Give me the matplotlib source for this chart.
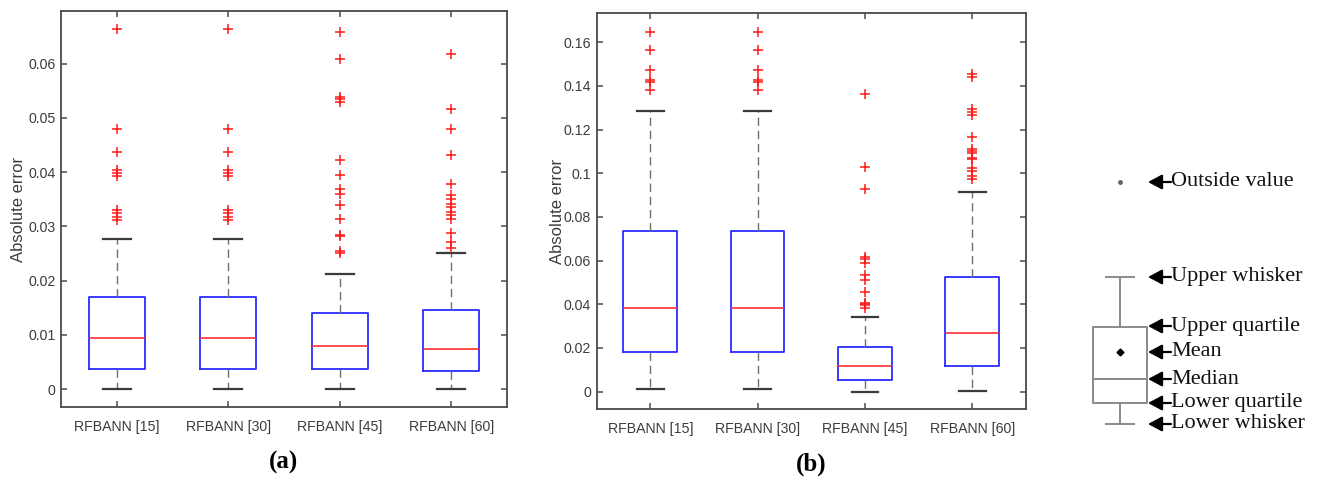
import matplotlib
matplotlib.use("Agg")
import matplotlib.pyplot as plt

# ---------------- data ----------------
categories = ["RFBANN [15]", "RFBANN [30]", "RFBANN [45]", "RFBANN [60]"]

# panel (a)
a_q1 = [0.00362, 0.00362, 0.00368, 0.00337]
a_med = [0.00945, 0.00945, 0.00798, 0.00736]
a_q3 = [0.01693, 0.01693, 0.01411, 0.01454]
a_lo = [0.0, 0.0, 0.0, 0.0001]
a_hi = [0.0276, 0.0276, 0.0212, 0.0250]
a_out_15 = [0.0663, 0.0480, 0.0437, 0.0403, 0.0399, 0.0393, 0.0330, 0.0325, 0.0318, 0.0312]
a_out_30 = [0.0663, 0.0480, 0.0437, 0.0403, 0.0399, 0.0393, 0.0330, 0.0325, 0.0318, 0.0312]
a_out_45 = [0.0658, 0.0609, 0.0539, 0.0534, 0.0529, 0.0422, 0.0395, 0.0369, 0.0360,
            0.0339, 0.0313, 0.0284, 0.0282, 0.0254, 0.0251]
a_out_60 = [0.0618, 0.0516, 0.0480, 0.0431, 0.0379, 0.0358, 0.0350, 0.0342, 0.0335,
            0.0327, 0.0321, 0.0313, 0.0287, 0.0272, 0.0261]

# panel (b)
b_q1 = [0.01817, 0.01817, 0.0052, 0.0119]
b_med = [0.0385, 0.0385, 0.0119, 0.0269]
b_q3 = [0.0737, 0.0737, 0.0203, 0.0527]
b_lo = [0.0014, 0.0014, 0.0, 0.0003]
b_hi = [0.1285, 0.1285, 0.0340, 0.0915]
b_out_15 = [0.1648, 0.1564, 0.1475, 0.1426, 0.1420, 0.1383]
b_out_30 = [0.1648, 0.1564, 0.1475, 0.1426, 0.1420, 0.1383]
b_out_45 = [0.1362, 0.1027, 0.0928, 0.0615, 0.0606, 0.0591, 0.0533, 0.0511, 0.0455,
            0.0408, 0.0402, 0.0397, 0.0382]
b_out_60 = [0.1453, 0.1443, 0.1293, 0.1280, 0.1268, 0.1166, 0.1110, 0.1101, 0.1092,
            0.1070, 0.1064, 0.1024, 0.1010, 0.0987, 0.0975]

a_yticks = [0, 0.01, 0.02, 0.03, 0.04, 0.05, 0.06]
a_yticklabels = ["0", "0.01", "0.02", "0.03", "0.04", "0.05", "0.06"]
b_yticks = [0, 0.02, 0.04, 0.06, 0.08, 0.10, 0.12, 0.14, 0.16]
b_yticklabels = ["0", "0.02", "0.04", "0.06", "0.08", "0.1", "0.12", "0.14", "0.16"]

key_labels = ["Outside value", "Upper whisker", "Upper quartile", "Mean",
              "Median", "Lower quartile", "Lower whisker"]

# ---------------- styling ----------------
SANS = "Liberation Sans"
TXT = "#3c3c3c"
SPINE = "#4a4a4a"

fig = plt.figure(figsize=(13.2, 4.78), dpi=100)


def make_stats(q1, med, q3, lo, hi, outs):
    return [dict(q1=q1[i], med=med[i], q3=q3[i], whislo=lo[i], whishi=hi[i],
                 fliers=outs[i], label=categories[i]) for i in range(len(categories))]


def panel(rect, stats, ylim, yticks, yticklabels, tag, label_x):
    ax = fig.add_axes(rect)
    ax.bxp(stats, positions=range(1, len(stats) + 1), widths=0.5, capwidths=0.25,
           manage_ticks=False,
           boxprops=dict(color="#2b2bff", lw=1.3),
           medianprops=dict(color="#ff3030", lw=1.2),
           whiskerprops=dict(color="#707070", lw=1.0, linestyle=(0, (6, 3.5))),
           capprops=dict(color="#3a3a3a", lw=1.6),
           flierprops=dict(marker="+", markeredgecolor="#ff1a1a", markersize=6.5,
                           markeredgewidth=1.1, linestyle="none"))
    ax.set_xlim(0.5, len(stats) + 0.5)
    ax.set_ylim(*ylim)
    ax.set_xticks(range(1, len(stats) + 1))
    ax.set_xticklabels(categories, fontfamily=SANS, fontsize=10.2, color=TXT)
    ax.set_yticks(yticks)
    ax.set_yticklabels(yticklabels, fontfamily=SANS, fontsize=10.2, color=TXT)
    ax.tick_params(direction="in", top=True, right=True, length=4.5, width=1.1,
                   color=SPINE)
    ax.tick_params(axis="x", pad=9)
    ax.tick_params(axis="y", pad=4)
    for s in ax.spines.values():
        s.set_color(SPINE)
        s.set_linewidth(1.3)
    ax.set_ylabel("Absolute error", fontfamily=SANS, fontsize=12, color=TXT)
    ax.yaxis.set_label_coords(label_x, 0.5)
    ax.text(0.5, -0.14, tag, transform=ax.transAxes, ha="center", va="center",
            fontfamily="Liberation Serif", fontweight="bold", fontsize=18, color="black")
    return ax


ax_a = panel([0.0462, 0.1485, 0.3379, 0.8285],
             make_stats(a_q1, a_med, a_q3, a_lo, a_hi, [a_out_15, a_out_30, a_out_45, a_out_60]),
             (-0.0033, 0.0697), a_yticks, a_yticklabels, "(a)", -0.079)
ax_b = panel([0.452, 0.1437, 0.3252, 0.8285],
             make_stats(b_q1, b_med, b_q3, b_lo, b_hi, [b_out_15, b_out_30, b_out_45, b_out_60]),
             (-0.0081, 0.1733), b_yticks, b_yticklabels, "(b)", -0.074)

# ---------------- explanatory key (pixel-like coordinates) ----------------
key = fig.add_axes([0, 0, 1, 1])
key.set_xlim(0, 1320)
key.set_ylim(478, 0)
key.axis("off")

g = "#8a8a8a"
cx = 1120
key.plot([cx], [182], marker="o", ms=2.5, color="#666666")
key.plot([1106, 1134], [277, 277], color=g, lw=1.4)
key.plot([cx, cx], [277, 326.7], color=g, lw=1.4)
key.plot([1092.7, 1147.3, 1147.3, 1092.7, 1092.7],
         [326.7, 326.7, 403.3, 403.3, 326.7], color=g, lw=1.4)
key.plot([1092.7, 1147.3], [378.7, 378.7], color=g, lw=1.4)
key.plot([cx], [352], marker="D", ms=3.5, color="black")
key.plot([cx, cx], [403.3, 424.3], color=g, lw=1.4)
key.plot([1106, 1134], [424.3, 424.3], color=g, lw=1.4)

label_y = [182, 277, 326, 352, 379, 403, 424]
for lab, y in zip(key_labels, label_y):
    key.annotate("", xy=(1148, y), xytext=(1171, y),
                 arrowprops=dict(arrowstyle="-|>,head_length=0.6,head_width=0.32",
                                 color="black", lw=1.6, shrinkA=0, shrinkB=0,
                                 mutation_scale=14))
    key.text(1171, y, lab, ha="left", va="center", fontfamily="Liberation Serif",
             fontsize=16, color="#111111")

fig.savefig("out.png", dpi=100)
